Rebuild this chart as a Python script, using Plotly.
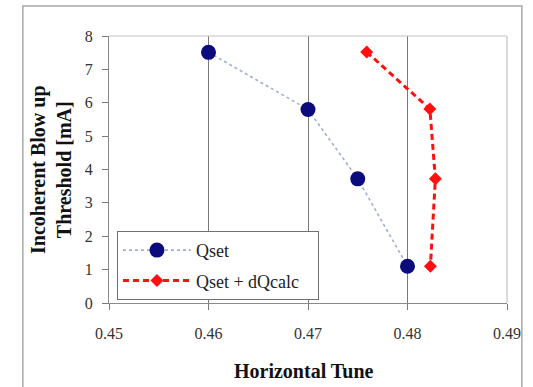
import plotly.graph_objects as go

# Data
qset_x = [0.46, 0.47, 0.475, 0.48]
qset_y = [7.51, 5.80, 3.72, 1.10]
qcalc_x = [0.4759, 0.48225, 0.4828, 0.48230]
qcalc_y = [7.52, 5.81, 3.72, 1.10]
x_ticks = [0.45, 0.46, 0.47, 0.48, 0.49]
x_labels = ["0.45", "0.46", "0.47", "0.48", "0.49"]
y_ticks = [0, 1, 2, 3, 4, 5, 6, 7, 8]

SERIF = '"Liberation Serif", "Times New Roman", Times, serif'

fig = go.Figure()
fig.add_trace(go.Scatter(
    x=qset_x, y=qset_y, name="Qset", mode="lines+markers", legendgroup="a",
    line=dict(color="#9fb0cf", width=1.6, dash="dot"),
    marker=dict(symbol="circle", size=15, color="#0b0b7d"),
))
fig.add_trace(go.Scatter(
    x=qcalc_x, y=qcalc_y, name="Qset + dQcalc\u00a0\u00a0\u00a0", mode="lines+markers", legendgroup="b",
    line=dict(color="#ff1010", width=3, dash="6px,4px"),
    marker=dict(symbol="diamond", size=10, color="#ff1010"),
))

fig.update_layout(
    width=533, height=387,
    margin=dict(l=109, r=17.5, t=36, b=84),
    paper_bgcolor="white", plot_bgcolor="white",
    font=dict(family=SERIF, size=16, color="#333333"),
    showlegend=True,
    legend=dict(
        x=0.02, y=0.27, xanchor="left", yanchor="top",
        bgcolor="white", bordercolor="#707070", borderwidth=1,
        font=dict(family=SERIF, size=18, color="#222222"),
        itemwidth=68, tracegroupgap=4,
    ),
    xaxis=dict(
        range=[0.45, 0.49], tickvals=x_ticks, ticktext=x_labels,
        showgrid=True, gridcolor="#7a7a7a", gridwidth=1.2,
        showline=True, linecolor="#8a8a8a", linewidth=1.2, mirror=False,
        ticks="outside", ticklen=6, tickcolor="#7a7a7a",
        ticklabelstandoff=10, zeroline=False,
        tickfont=dict(family=SERIF, size=16, color="#333333"),
    ),
    yaxis=dict(
        range=[0, 8], tickvals=y_ticks,
        showgrid=False,
        showline=True, linecolor="#8a8a8a", linewidth=1.2,
        ticks="outside", ticklen=6, tickcolor="#7a7a7a",
        ticklabelstandoff=6, zeroline=False,
        tickfont=dict(family=SERIF, size=16, color="#333333"),
    ),
    shapes=[
        dict(type="line", xref="paper", yref="paper", x0=0, x1=1, y0=1, y1=1,
             line=dict(color="#c4c4c4", width=1.2)),
        dict(type="line", xref="paper", yref="paper", x0=1, x1=1, y0=0, y1=1,
             line=dict(color="#c4c4c4", width=1.2)),
        dict(type="rect", xref="paper", yref="paper", x0=-0.2165, x1=1.0374,
             y0=-0.5, y1=1.1122, line=dict(color="#a8a8a8", width=1.5)),
    ],
    annotations=[
        dict(text="<b>Incoherent Blow up<br>Threshold [mA]</b>", xref="paper", yref="paper",
             x=-0.147, y=0.5, xanchor="center", yanchor="middle", textangle=-90, showarrow=False,
             font=dict(family=SERIF, size=20, color="#111111")),
        dict(text="<b>Horizontal Tune</b>", xref="paper", yref="paper",
             x=0.49, y=-0.255, xanchor="center", yanchor="middle", showarrow=False,
             font=dict(family=SERIF, size=20, color="#111111")),
    ],
)

fig.write_html("out.html")
